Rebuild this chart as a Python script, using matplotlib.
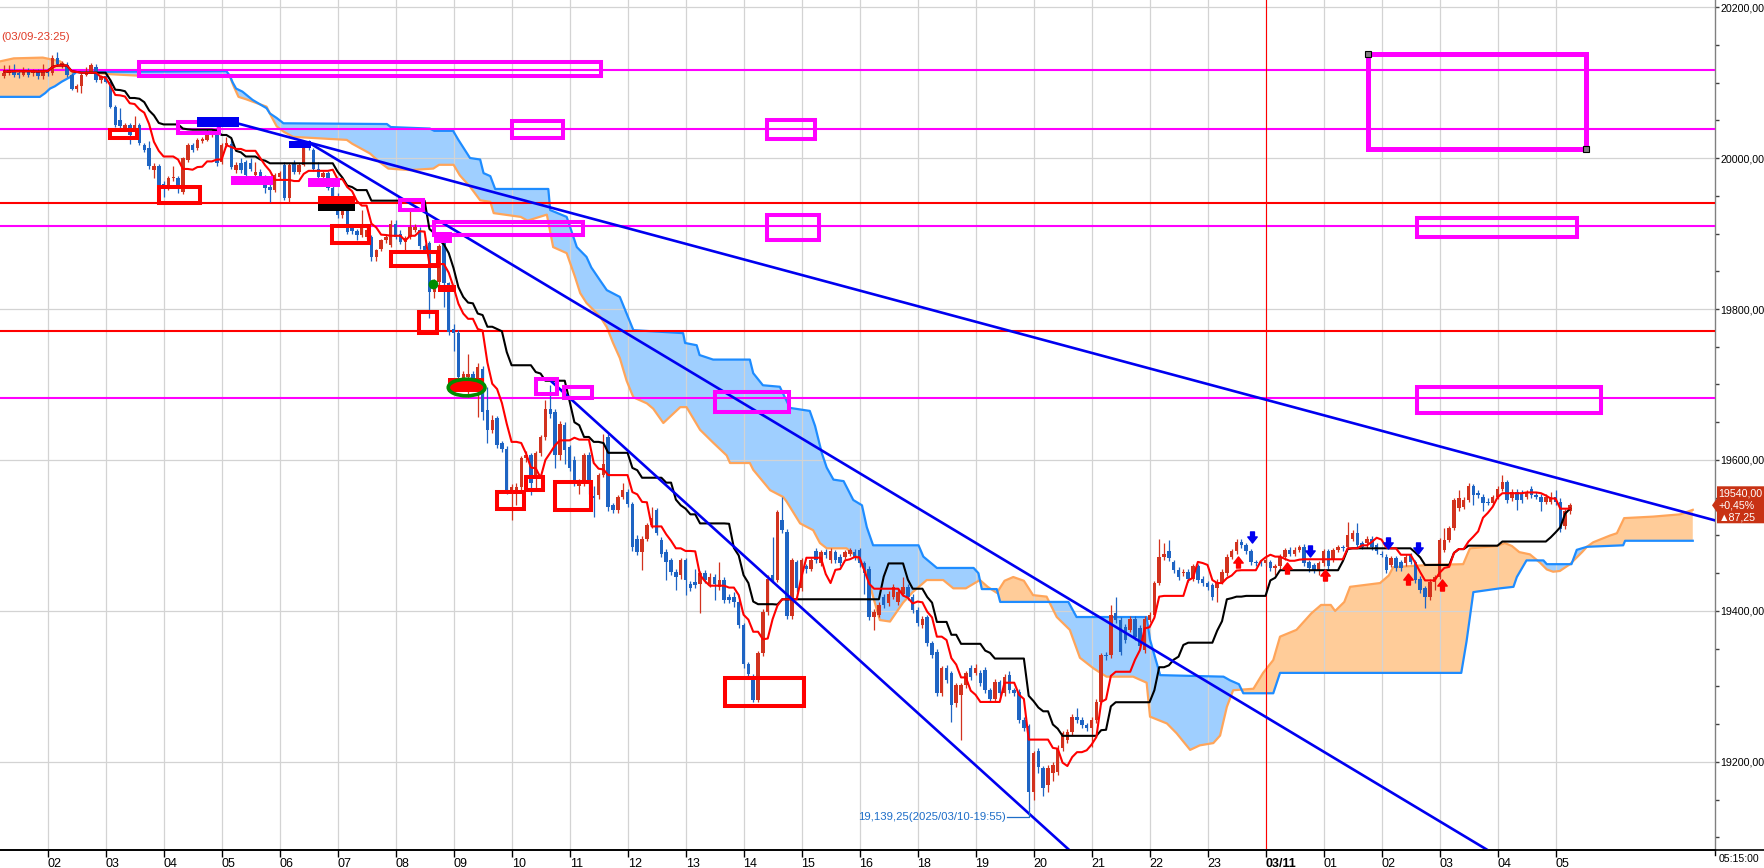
import numpy as np
import matplotlib
matplotlib.use("Agg")
import matplotlib.pyplot as plt
from matplotlib.patches import Rectangle, Ellipse, Polygon
from matplotlib.path import Path
from matplotlib.lines import Line2D
from matplotlib.transforms import IdentityTransform
from matplotlib import font_manager as fm

# ======================= DATA =======================
# 5-minute bars; bar index 0 = 03/10 02:00, first visible bar = 01:15
first_bar = -9

opens = [
    20108, 20112, 20117, 20113, 20110, 20116, 20112, 20115, 20108,
    20116, 20112, 20132, 20122, 20123, 20110, 20092, 20095, 20110, 20114, 20121, 20103,
    20108, 20101, 20068, 20050, 20040, 20044, 20039, 20044, 20017, 20013, 19984, 19989,
    19966, 19962, 19973, 19973, 19955, 19997, 20017, 20013, 20022, 20024, 20030, 20035,
    19995, 20017, 20019, 19984, 19993, 19995, 19993, 19978, 19982, 19975, 19962, 19958,
    19975, 19991, 19947, 19993, 19982, 19991, 20019, 20011, 19986, 19975, 19980, 19960,
    19950, 19925, 19931, 19907, 19903, 19898, 19896, 19895, 19869, 19880, 19891, 19885,
    19913, 19900, 19889, 19896, 19905, 19905, 19883, 19887, 19823, 19836, 19887, 19834,
    19774, 19768, 19701, 19710, 19714, 19706, 19721, 19666, 19640, 19655, 19622, 19615,
    19560, 19560, 19564, 19602, 19606, 19578, 19609, 19630, 19668, 19664, 19606, 19647,
    19617, 19600, 19565, 19571, 19606, 19552, 19553, 19580, 19631, 19540, 19534, 19551,
    19558, 19542, 19496, 19478, 19496, 19514, 19534, 19494, 19478, 19467, 19452, 19447,
    19467, 19436, 19439, 19436, 19450, 19436, 19445, 19432, 19441, 19419, 19419, 19412,
    19381, 19330, 19313, 19282, 19344, 19399, 19447, 19441, 19520, 19505, 19394, 19465,
    19430, 19459, 19456, 19480, 19463, 19478, 19467, 19478, 19472, 19472, 19476, 19478,
    19481, 19463, 19456, 19392, 19395, 19419, 19410, 19419, 19412, 19423, 19432, 19419,
    19401, 19381, 19392, 19357, 19346, 19291, 19324, 19318, 19278, 19289, 19302, 19324,
    19318, 19318, 19322, 19295, 19284, 19306, 19291, 19315, 19295, 19293, 19256, 19247,
    19160, 19214, 19192, 19170, 19185, 19187, 19218, 19229, 19240, 19260, 19256, 19249,
    19245, 19256, 19280, 19342, 19342, 19397, 19388, 19379, 19375, 19390, 19377, 19348,
    19388, 19395, 19437, 19472, 19479, 19465, 19454, 19450, 19452, 19443, 19459, 19443,
    19437, 19434, 19430, 19439, 19450, 19472, 19479, 19492, 19487, 19479, 19465, 19465,
    19463, 19465, 19457, 19459, 19472, 19481, 19476, 19481, 19485, 19465, 19461, 19454,
    19463, 19479, 19468, 19481, 19485, 19485, 19496, 19503, 19490, 19490, 19496, 19487,
    19476, 19472, 19461, 19470, 19465, 19463, 19474, 19465, 19443, 19430, 19419, 19439,
    19445, 19481, 19494, 19510, 19536, 19538, 19547, 19565, 19556, 19551, 19545, 19543,
    19551, 19562, 19571, 19549, 19558, 19556, 19551, 19562, 19554, 19551, 19545, 19545,
    19551, 19545, 19512, 19532,
]
highs = [
    20123, 20123, 20124, 20116, 20121, 20119, 20118, 20118, 20125,
    20119, 20136, 20140, 20129, 20127, 20112, 20098, 20112, 20121, 20126, 20124, 20110,
    20112, 20104, 20070, 20066, 20047, 20046, 20055, 20047, 20020, 20022, 19993, 19992,
    19970, 19976, 19989, 19976, 20002, 20020, 20020, 20027, 20028, 20039, 20038, 20044,
    20020, 20028, 20024, 19995, 20000, 19998, 20000, 19995, 19985, 19977, 19965, 19980,
    19983, 19995, 19993, 19997, 19994, 20016, 20024, 20013, 19995, 19983, 19983, 19963,
    19953, 19934, 19933, 19911, 19906, 19931, 19912, 19898, 19880, 19893, 19899, 19918,
    19918, 19905, 19897, 19931, 19913, 19909, 19886, 19890, 19840, 19886, 19890, 19836,
    19780, 19772, 19718, 19741, 19718, 19728, 19725, 19697, 19660, 19658, 19625, 19618,
    19568, 19570, 19605, 19612, 19609, 19612, 19633, 19680, 19699, 19667, 19652, 19650,
    19620, 19605, 19575, 19609, 19610, 19565, 19583, 19635, 19634, 19543, 19554, 19570,
    19562, 19545, 19500, 19499, 19517, 19538, 19537, 19498, 19482, 19470, 19455, 19470,
    19470, 19440, 19455, 19453, 19454, 19450, 19449, 19465, 19445, 19422, 19425, 19414,
    19384, 19333, 19316, 19347, 19402, 19447, 19498, 19534, 19551, 19508, 19470, 19468,
    19470, 19462, 19470, 19483, 19481, 19482, 19484, 19481, 19475, 19481, 19484, 19482,
    19484, 19466, 19460, 19402, 19412, 19422, 19426, 19436, 19430, 19445, 19436, 19422,
    19405, 19393, 19395, 19360, 19349, 19327, 19328, 19321, 19305, 19305, 19321, 19328,
    19330, 19322, 19326, 19298, 19310, 19309, 19316, 19320, 19298, 19296, 19259, 19250,
    19215, 19218, 19195, 19196, 19200, 19222, 19241, 19244, 19263, 19271, 19259, 19252,
    19259, 19283, 19345, 19346, 19408, 19419, 19392, 19383, 19394, 19394, 19381, 19394,
    19399, 19440, 19496, 19490, 19494, 19468, 19458, 19456, 19456, 19462, 19462, 19446,
    19440, 19437, 19442, 19455, 19475, 19482, 19495, 19496, 19490, 19482, 19467, 19467,
    19471, 19468, 19462, 19475, 19484, 19485, 19485, 19488, 19489, 19468, 19464, 19466,
    19482, 19482, 19484, 19488, 19488, 19518, 19507, 19516, 19493, 19499, 19499, 19490,
    19479, 19475, 19473, 19473, 19468, 19475, 19477, 19468, 19446, 19433, 19442, 19448,
    19497, 19510, 19513, 19550, 19560, 19551, 19569, 19568, 19560, 19555, 19549, 19554,
    19565, 19580, 19574, 19562, 19562, 19560, 19560, 19566, 19558, 19555, 19555, 19557,
    19560, 19549, 19535, 19543,
]
lows = [
    20106, 20110, 20107, 20106, 20108, 20107, 20109, 20105, 20105,
    20109, 20110, 20122, 20119, 20107, 20090, 20088, 20086, 20108, 20112, 20101, 20100,
    20099, 20066, 20041, 20040, 20037, 20019, 20036, 20017, 20008, 19986, 19973, 19953,
    19949, 19958, 19970, 19953, 19952, 19995, 20008, 20010, 20020, 20022, 20028, 19990,
    19992, 20014, 19985, 19980, 19980, 19975, 19983, 19975, 19972, 19953, 19942, 19955,
    19972, 19944, 19942, 19979, 19979, 19989, 20010, 19983, 19972, 19972, 19957, 19945,
    19920, 19921, 19899, 19900, 19891, 19896, 19893, 19863, 19863, 19877, 19888, 19882,
    19893, 19886, 19875, 19893, 19902, 19880, 19874, 19788, 19815, 19830, 19803, 19765,
    19745, 19705, 19698, 19684, 19698, 19657, 19653, 19622, 19636, 19616, 19610, 19555,
    19520, 19540, 19560, 19598, 19553, 19560, 19605, 19627, 19655, 19590, 19600, 19595,
    19585, 19565, 19555, 19566, 19555, 19525, 19548, 19578, 19533, 19530, 19530, 19548,
    19538, 19480, 19474, 19454, 19493, 19510, 19500, 19472, 19441, 19448, 19428, 19443,
    19421, 19426, 19430, 19397, 19437, 19432, 19414, 19428, 19410, 19410, 19405, 19377,
    19325, 19312, 19280, 19280, 19340, 19395, 19437, 19438, 19503, 19390, 19390, 19425,
    19427, 19450, 19453, 19463, 19460, 19470, 19464, 19463, 19459, 19469, 19473, 19468,
    19458, 19423, 19388, 19375, 19392, 19404, 19406, 19416, 19408, 19420, 19415, 19397,
    19380, 19378, 19353, 19338, 19287, 19287, 19305, 19253, 19273, 19229, 19298, 19309,
    19315, 19300, 19291, 19280, 19280, 19287, 19288, 19291, 19287, 19252, 19241, 19139.25,
    19150, 19185, 19155, 19160, 19175, 19183, 19214, 19225, 19236, 19252, 19245, 19241,
    19220, 19252, 19277, 19335, 19338, 19384, 19342, 19358, 19372, 19362, 19349, 19344,
    19385, 19392, 19434, 19468, 19466, 19450, 19441, 19446, 19439, 19440, 19437, 19433,
    19428, 19414, 19412, 19436, 19446, 19469, 19476, 19484, 19476, 19461, 19460, 19460,
    19460, 19453, 19448, 19456, 19468, 19473, 19473, 19478, 19460, 19452, 19450, 19448,
    19460, 19456, 19465, 19478, 19480, 19482, 19493, 19483, 19482, 19483, 19481, 19476,
    19471, 19450, 19458, 19453, 19453, 19460, 19462, 19437, 19424, 19404, 19415, 19428,
    19442, 19478, 19491, 19507, 19533, 19535, 19544, 19540, 19550, 19532, 19540, 19540,
    19548, 19559, 19543, 19546, 19534, 19543, 19548, 19550, 19548, 19532, 19542, 19542,
    19541, 19505, 19508, 19529,
]
closes = [
    20112, 20116, 20110, 20110, 20116, 20110, 20115, 20108, 20114,
    20112, 20132, 20125, 20126, 20110, 20092, 20095, 20110, 20114, 20123, 20103, 20108,
    20101, 20068, 20044, 20043, 20044, 20031, 20044, 20020, 20011, 19989, 19990, 19962,
    19962, 19973, 19975, 19962, 20000, 20017, 20011, 20024, 20025, 20033, 20035, 19993,
    20017, 20020, 19988, 19991, 19984, 19978, 19986, 19982, 19975, 19960, 19958, 19978,
    19980, 19947, 19991, 19982, 19991, 20013, 20013, 19986, 19975, 19980, 19960, 19950,
    19925, 19931, 19902, 19903, 19898, 19907, 19905, 19869, 19878, 19891, 19896, 19913,
    19896, 19889, 19894, 19909, 19909, 19883, 19878, 19823, 19832, 19883, 19834, 19770,
    19768, 19710, 19714, 19714, 19701, 19723, 19664, 19640, 19653, 19620, 19615, 19560,
    19564, 19564, 19602, 19606, 19569, 19609, 19630, 19668, 19661, 19606, 19648, 19613,
    19589, 19573, 19569, 19606, 19573, 19549, 19580, 19595, 19538, 19534, 19551, 19560,
    19542, 19485, 19478, 19496, 19514, 19523, 19503, 19476, 19465, 19452, 19445, 19467,
    19441, 19430, 19434, 19450, 19441, 19445, 19436, 19441, 19414, 19414, 19412, 19381,
    19330, 19317, 19282, 19344, 19399, 19443, 19441, 19531, 19507, 19394, 19467, 19430,
    19467, 19456, 19467, 19467, 19478, 19474, 19480, 19467, 19463, 19478, 19481, 19472,
    19463, 19450, 19392, 19399, 19408, 19408, 19423, 19432, 19425, 19432, 19419, 19401,
    19384, 19390, 19357, 19342, 19291, 19324, 19309, 19275, 19302, 19302, 19318, 19313,
    19324, 19304, 19295, 19284, 19306, 19291, 19313, 19295, 19291, 19256, 19245, 19160,
    19212, 19194, 19165, 19192, 19196, 19218, 19238, 19240, 19260, 19256, 19249, 19245,
    19256, 19280, 19342, 19340, 19395, 19388, 19346, 19362, 19390, 19366, 19353, 19390,
    19395, 19437, 19472, 19476, 19470, 19454, 19445, 19452, 19443, 19459, 19441, 19437,
    19432, 19419, 19439, 19452, 19472, 19479, 19492, 19487, 19479, 19465, 19463, 19463,
    19468, 19457, 19459, 19472, 19481, 19476, 19481, 19485, 19463, 19457, 19454, 19463,
    19479, 19459, 19481, 19485, 19483, 19501, 19503, 19487, 19485, 19496, 19485, 19479,
    19474, 19454, 19470, 19457, 19457, 19472, 19465, 19441, 19428, 19419, 19439, 19445,
    19494, 19494, 19510, 19547, 19549, 19547, 19565, 19554, 19554, 19543, 19543, 19551,
    19562, 19571, 19547, 19558, 19547, 19547, 19556, 19554, 19551, 19545, 19551, 19551,
    19545, 19509, 19532, 19540,
]

hour_labels = ['02', '03', '04', '05', '06', '07', '08', '09', '10', '11', '12', '13',
               '14', '15', '16', '18', '19', '20', '21', '22', '23', '03/11', '01', '02',
               '03', '04', '05']
last_time_label = '05:15:00'
day_label = '03/11'
low_time = '2025/03/10-19:55'
high_label = '(03/09-23:25)'
change_points = 87.25
change_pct = 0.45

# Ichimoku cloud (leading spans): bar index / price
span_a_x = [-9.85, -7, -1, 0.5, 2.6, 3.9, 5, 13, 19, 37.7, 38.5, 39.5, 41, 45.3, 46.3, 47.4,
            48.8, 50.8, 61.9, 63, 66.7, 68.8, 70.5, 75, 79.8, 81, 84, 85.3, 87.4, 89.5, 91.6,
            92.3, 97.9, 99.3, 103.3, 104.2, 104.6, 107.4, 109.1, 110.2, 111.5, 114.3, 115.7,
            117, 118.4, 119.8, 121.2, 124, 125.3, 127.4, 130.9, 132.2, 135, 137.7, 140.5,
            141.2, 145.3, 146, 149.5, 152.2, 152.9, 155.7, 158.4, 159.8, 161.2, 165.3, 167.4,
            169.5, 170.8, 172.2, 174.3, 177, 179, 181.9, 185.3, 187.4, 190, 192.9, 194.5,
            196.4, 198, 199.8, 202, 203.9, 206.7, 208.8, 211.5, 213.6, 216.4, 219.1, 224.6,
            227.4, 228.1, 231.6, 233.6, 236.4, 238.4, 241.2, 242.6, 244, 245.3, 249.5, 251.5,
            253.6, 255, 258.4, 261.5, 263.5, 265.5, 266.4, 268.3, 269.5, 275.7, 277.5, 278.4,
            286, 292.9, 294.3, 299.8, 301.5, 303, 304.5, 306.7, 308.8, 310.2, 311.5, 312.9,
            315, 317.5, 318.5, 319.8, 323.3, 324.7, 326.2, 332.2, 337.8, 340.4]
span_a_y = [20128, 20132, 20133, 20131, 20128, 20121, 20115, 20111, 20109, 20108, 20095, 20081,
            20078, 20068, 20055, 20042, 20035, 20028, 20024, 20019, 20006, 19994, 19986, 19984,
            19986, 19991, 19991, 19977, 19962, 19944, 19942, 19927, 19922, 19917, 19925, 19895,
            19882, 19874, 19843, 19821, 19808, 19790, 19776, 19755, 19735, 19705, 19683, 19675,
            19668, 19649, 19670, 19670, 19640, 19623, 19606, 19596, 19596, 19587, 19560, 19551,
            19545, 19516, 19507, 19490, 19483, 19483, 19472, 19450, 19419, 19388, 19386, 19411,
            19425, 19441, 19441, 19430, 19430, 19441, 19432, 19424, 19440, 19445, 19440, 19421,
            19419, 19392, 19375, 19338, 19324, 19313, 19313, 19305, 19260, 19251, 19238, 19216,
            19222, 19225, 19235, 19273, 19295, 19297, 19318, 19335, 19366, 19375, 19397, 19408,
            19408, 19400, 19412, 19432, 19437, 19447, 19458, 19461, 19462, 19483, 19486, 19490,
            19486, 19478, 19475, 19464, 19455, 19452, 19453, 19462, 19478, 19485, 19491, 19500,
            19503, 19523, 19525, 19528, 19534]
span_b_x = [-9.85, -1.6, -0.5, 0.5, 1.5, 2.9, 4.6, 6, 37, 37.7, 38.3, 39, 40.3, 42.4, 45.3, 46,
            47.4, 48.8, 70.2, 71, 79.1, 80, 83.9, 85, 87.4, 89.5, 90.2, 91.6, 92.6, 103.6, 104,
            107.4, 109.5, 111.5, 112.5, 114.3, 115.7, 118.4, 121.2, 131.5, 131.9, 134.3, 134.9,
            137.7, 145.3, 146, 148, 151.5, 153.6, 157.7, 158.8, 160.2, 161.2, 162.6, 164.7,
            166.7, 168.5, 169.5, 170.8, 180.2, 181.2, 184, 191.6, 192.6, 193.3, 196.4, 197.1,
            211.2, 212.9, 227.4, 228.1, 230.2, 243.3, 244.7, 246.5, 247.4, 253.6, 255, 292.5,
            293.6, 295, 300.5, 303.3, 304, 306, 309.5, 310.2, 315.3, 316.4, 318.5, 326, 326.4,
            340.4]
span_b_y = [20081, 20081, 20086, 20092, 20095, 20101, 20107, 20114, 20115, 20109, 20100, 20092,
            20088, 20077, 20066, 20059, 20053, 20046, 20045, 20041, 20039, 20036, 20036, 20024,
            20000, 19998, 19980, 19976, 19959, 19959, 19931, 19922, 19882, 19869, 19855, 19838,
            19825, 19816, 19772, 19768, 19755, 19752, 19739, 19733, 19733, 19715, 19699, 19697,
            19669, 19665, 19645, 19609, 19590, 19574, 19572, 19547, 19540, 19511, 19487, 19487,
            19472, 19457, 19457, 19450, 19429, 19429, 19412, 19412, 19392, 19392, 19362, 19315,
            19313, 19308, 19303, 19291, 19291, 19318, 19318, 19360, 19425, 19430, 19432, 19445,
            19467, 19467, 19462, 19462, 19481, 19485, 19487, 19493, 19493]

# horizontal price levels drawn on the chart
levels_magenta = [20117, 20039, 19909.5, 19681.5]
levels_red = [19941, 19771]
# trend lines: (bar0, price0, bar1, price1)
trend_lines = [(39.8, 20045, 345.0, 19520),
               (54.3, 20019.4, 310.0, 19037),
               (104.3, 19703.7, 220.0, 19033.5)]
# annotation boxes: (bar0, bar1, price0, price1)
magenta_boxes = [(18.9, 114.6, 20109, 20127), (96, 106.6, 20026, 20049),
                 (148.9, 158.8, 20025, 20051), (148.9, 159.6, 19892, 19925),
                 (80, 110.7, 19898, 19915), (138, 153.5, 19664, 19690),
                 (101, 105.5, 19688, 19707), (106.9, 112.6, 19682, 19697),
                 (27, 35.5, 20033, 20048), (72.9, 77.6, 19931, 19945),
                 (283.4, 316.5, 19895, 19921), (283.4, 321.4, 19662, 19697)]
big_box = (273.1, 318.3, 20011.5, 20137.4)
magenta_filled = [(37.9, 46.6, 19964, 19976), (53.9, 60.6, 19962, 19974), (80, 83.6, 19888, 19902)]
blue_filled = [(31, 39.7, 20041, 20054), (50, 54.6, 20013, 20023)]
red_filled = [(56, 63.6, 19939, 19950), (80.8, 84.6, 19822, 19832), (82.9, 90.2, 19690, 19708)]
black_filled = [(56, 63.6, 19930, 19939)]
red_boxes = [(13, 18.4, 20026, 20037), (23, 31.5, 19940, 19962), (58.8, 66.6, 19888, 19910),
             (71, 80.8, 19857, 19875), (76.9, 80.6, 19768, 19796), (92.9, 98.6, 19535, 19557),
             (98.9, 102.6, 19560, 19578), (105, 112.4, 19534, 19571), (140.2, 156.5, 19274, 19311)]
green_ellipse = (86.7, 19696, 7.6, 22)
green_dot = (79.8, 19833)
sell_signals = [(249.3, 19498), (261.2, 19479), (277.4, 19490), (283.5, 19483)]
buy_signals = [(246.4, 19465), (256.4, 19457), (264.4, 19448), (281.4, 19443), (288.5, 19434)]

# ======================= FIGURE =======================
names = {f.name for f in fm.fontManager.ttflist}
if 'Liberation Sans Narrow' in names:
    FAM = ['Liberation Sans Narrow', 'DejaVu Sans']
    k = 1.15
elif 'Liberation Sans' in names:
    FAM = ['Liberation Sans', 'DejaVu Sans']
    k = 1.0
else:
    FAM = ['DejaVu Sans']
    k = 0.88

W, H = 1765, 868
fig = plt.figure(figsize=(W / 100, H / 100), dpi=100)
fig.patch.set_facecolor('white')
ax = fig.add_axes([0, 18 / H, 1715 / W, 850 / H])
xmin, xmax = -9.85, 345.0
ax.set_xlim(xmin, xmax)
ax.set_ylim(19083.4, 20209.3)
ax.set_facecolor('white')

O = np.array(opens, float); Hh = np.array(highs, float)
Lw = np.array(lows, float); C = np.array(closes, float)
assert len(O) == len(Hh) == len(Lw) == len(C)
x = np.arange(first_bar, first_bar + len(C))

# ---- cloud ----
gx = np.union1d(span_a_x, span_b_x)
ga = np.interp(gx, span_a_x, span_a_y)
gb = np.interp(gx, span_b_x, span_b_y)
ax.fill_between(gx, ga, gb, where=ga >= gb, interpolate=True, color='#FFCC99', lw=0, zorder=1)
ax.fill_between(gx, ga, gb, where=ga < gb, interpolate=True, color='#9FCFFF', lw=0, zorder=1)
ax.plot(span_a_x, span_a_y, color='#FFA55A', lw=1.6, zorder=2)
ax.plot(span_b_x, span_b_y, color='#1E8CFF', lw=1.6, zorder=2)

# ---- horizontal levels / separator ----
for lv in levels_magenta:
    ax.axhline(lv, color='#FF00FF', lw=1.5, zorder=3)
for lv in levels_red:
    ax.axhline(lv, color='#FF0000', lw=1.5, zorder=3)
sep = 12 * hour_labels.index(day_label)
ax.axvline(sep, color='#FF0000', lw=0.8, zorder=3)

# ---- candles ----
up = C >= O
cols = np.where(up, '#D2321E', '#1E64C3')
ax.vlines(x, Lw, Hh, colors=cols, lw=0.9, zorder=4)
ax.bar(x, np.maximum(np.abs(C - O), 0.9), bottom=np.minimum(O, C), width=0.72,
       color=cols, lw=0, zorder=4.1)

# ---- tenkan / kijun from the bars ----
def midline(n):
    out = np.empty(len(C))
    for j in range(len(C)):
        s = max(0, j - n + 1)
        out[j] = (Hh[s:j + 1].max() + Lw[s:j + 1].min()) / 2
    return out

ax.plot(x, midline(26), color='black', lw=1.5, zorder=5)
ax.plot(x, midline(9), color='#FF0000', lw=1.5, zorder=5.1)

# ---- trend lines ----
for (a0, p0, a1, p1) in trend_lines:
    ax.plot([a0, a1], [p0, p1], color='#0000F0', lw=1.9, zorder=6)

# ---- annotation boxes ----
def box(b, **kw):
    ax.add_patch(Rectangle((b[0], b[2]), b[1] - b[0], b[3] - b[2], **kw))

for b in magenta_boxes:
    box(b, fill=False, edgecolor='#FF00FF', lw=2.9, zorder=7)
box(big_box, fill=False, edgecolor='#FF00FF', lw=3.6, zorder=7)
ax.plot([big_box[0], big_box[1]], [big_box[3], big_box[2]], ls='none', marker='s', ms=4,
        mfc='#808080', mec='black', mew=0.8, zorder=8)
for b in magenta_filled:
    box(b, facecolor='#FF00FF', edgecolor='none', zorder=7)
for b in blue_filled:
    box(b, facecolor='#0000F0', edgecolor='none', zorder=7)
for b in red_filled:
    box(b, facecolor='#FF0000', edgecolor='none', zorder=7)
for b in black_filled:
    box(b, facecolor='black', edgecolor='none', zorder=7)
for b in red_boxes:
    box(b, fill=False, edgecolor='#FF0000', lw=2.9, zorder=7)
ax.add_patch(Ellipse(green_ellipse[:2], green_ellipse[2], green_ellipse[3], fill=False,
                     edgecolor='#008C00', lw=2.6, zorder=8))
ax.plot([green_dot[0]], [green_dot[1]], 'o', ms=6, color='#008C00', zorder=8)

# ---- signal arrows ----
dn = Path([(-0.35, 1), (0.35, 1), (0.35, 0.1), (0.85, 0.1), (0, -1), (-0.85, 0.1),
           (-0.35, 0.1), (-0.35, 1)],
          [Path.MOVETO] + [Path.LINETO] * 6 + [Path.CLOSEPOLY])
upa = Path([(vx, -vy) for vx, vy in dn.vertices], dn.codes)
ax.plot([s[0] for s in sell_signals], [s[1] for s in sell_signals], ls='none', marker=dn,
        ms=8, color='#0000F0', zorder=9)
ax.plot([s[0] for s in buy_signals], [s[1] for s in buy_signals], ls='none', marker=upa,
        ms=8, color='#FF0000', zorder=9)

# ---- low / high labels ----
k_low = int(np.argmin(Lw))
xl, pl = x[k_low], Lw[k_low]
low_txt = f"{pl:,.2f}".replace('.', ',') + f"({low_time})"
ax.text(xl - 4.7, pl - 12, low_txt, ha='right', va='center', color='#1E6EC8',
        fontsize=8.2 * k, family=FAM, zorder=9)
ax.plot([xl - 4.5, xl, xl], [pl - 12, pl - 12, pl], color='#1E6EC8', lw=0.9, zorder=9)
fig.text(1 / W, (H - 37) / H, high_label, ha='left', va='center', color='#E03C28',
         fontsize=8.2 * k, family=FAM)

# ---- axes styling ----
for s in ['top', 'left']:
    ax.spines[s].set_visible(False)
ax.spines['right'].set_color('#808080')
ax.spines['right'].set_linewidth(1.0)
ax.spines['bottom'].set_color('black')
ax.spines['bottom'].set_linewidth(1.2)
fig.add_artist(Line2D([0, 1], [18 / H, 18 / H], color='black', lw=1.2,
                      transform=fig.transFigure))

hour_pos = [12 * j for j in range(len(hour_labels))]
ax.set_xticks(hour_pos)
xt = ax.set_xticklabels(hour_labels, ha='left', fontsize=9 * k, family=FAM)
for t in xt:
    if t.get_text() == day_label:
        t.set_fontweight('bold')
ax.tick_params(axis='x', direction='out', length=5, width=1, color='black', pad=1)
ax.plot([xmax, xmax], [0, -0.006], transform=ax.get_xaxis_transform(), color='black',
        lw=1, clip_on=False)
fig.text((1715 + 4) / W, 4 / H, last_time_label, ha='left', va='bottom',
         fontsize=7.6 * k, family=FAM)

ax.yaxis.tick_right()
yt = np.arange(19200, 20201, 200)
ax.set_yticks(yt)
ax.set_yticklabels([f"{v:.2f}".replace('.', ',') for v in yt], fontsize=7.7 * k, family=FAM)
ax.set_yticks(np.arange(19100, 20201, 50), minor=True)
ax.tick_params(axis='y', which='major', direction='out', length=3, width=1, color='#404040',
               pad=0.8)
ax.tick_params(axis='y', which='minor', direction='out', length=3, width=1, color='#404040')

ax.set_axisbelow('line')
ax.grid(True, which='major', color='#D3D3D3', lw=0.9)

# ---- last price tag ----
ypx = ax.transData.transform((0, C[-1]))[1]
xa = ax.transAxes.transform((1, 0))[0]
tag = Polygon([(xa - 3, ypx), (xa + 2, ypx + 7), (xa + 2, ypx + 19), (W, ypx + 19),
               (W, ypx - 18), (xa + 2, ypx - 18), (xa + 2, ypx - 7)], closed=True,
              transform=IdentityTransform(), facecolor='#C83214', edgecolor='none')
fig.add_artist(tag)
tag_lines = [f"{C[-1]:.2f}".replace('.', ','),
             f"+{change_pct:.2f}%".replace('.', ','),
             "\u25b2" + f"{change_points:.2f}".replace('.', ',')]
for j, s in enumerate(tag_lines):
    fig.text((xa + 3.5) / W, (ypx + 12 - 12 * j) / H, s, color='white', ha='left',
             va='center', fontsize=7.7 * k, family=FAM)

fig.savefig('out.png', dpi=100, facecolor='white')
